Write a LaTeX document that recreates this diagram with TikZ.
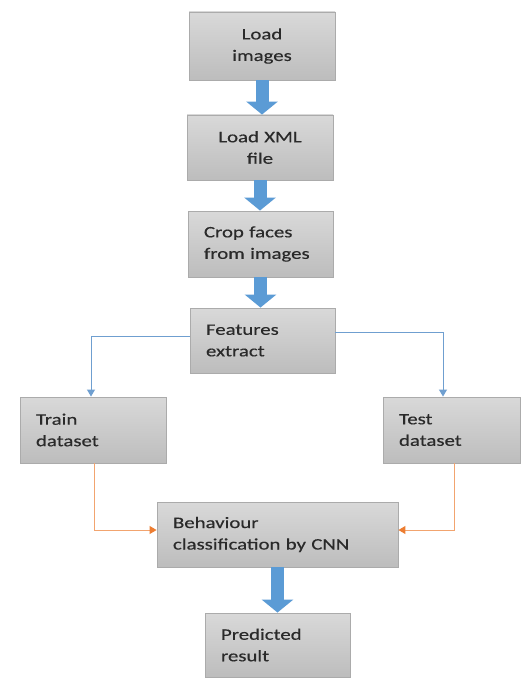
\documentclass[tikz,border=0pt]{standalone}
\usepackage{fontspec}
\setmainfont{Carlito}[FakeStretch=1.3,FakeBold=0.4]
\usetikzlibrary{arrows.meta}
\definecolor{blk}{HTML}{5B9BD5}
\definecolor{ln}{HTML}{6F9FD0}
\definecolor{orn}{HTML}{ED7D31}
\definecolor{txt}{HTML}{2A2A2A}
\tikzset{
  box/.style={rectangle, draw=black!33, line width=0.9pt, top color=black!15, bottom color=black!26,
    inner ysep=0pt, inner xsep=16pt, text=txt, font=\fontsize{16}{21.5}\selectfont},
  cbox/.style={box, align=center},
  lbox/.style={box, align=left},
  bigarrow/.style={draw=blk, line width=13pt, -{Triangle[width=31pt,length=13pt]}},
  bluelink/.style={draw=ln, line width=1pt, -{Triangle[width=8pt,length=7pt]}},
  orangelink/.style={draw=orn!70, line width=1pt, -{Triangle[width=8pt,length=7pt,color=orn]}},
}
\begin{document}
\begin{tikzpicture}[x=1pt,y=-1pt]
\useasboundingbox (0,0) rectangle (521,679);
\fill[white] (0,0) rectangle (521,679);
\node[cbox, minimum width=146pt, minimum height=68pt, text width=114pt] (load) at (262,46) {Load\\images};
\node[cbox, minimum width=146pt, minimum height=65pt, text width=114pt] (xml) at (260,147.5) {Load XML\\file};
\node[lbox, minimum width=145pt, minimum height=66pt, text width=113pt] (crop) at (260.5,244) {Crop faces\\from images};
\node[lbox, minimum width=145pt, minimum height=65pt, text width=113pt] (feat) at (262.5,340.5) {Features\\extract};
\node[lbox, minimum width=146pt, minimum height=66pt, text width=114pt] (train) at (93,430) {Train\\dataset};
\node[lbox, minimum width=137pt, minimum height=66pt, text width=105pt] (test) at (451.5,430) {Test\\dataset};
\node[lbox, minimum width=241pt, minimum height=65pt, text width=209pt] (beh) at (277.5,534.5) {Behaviour\\classification by CNN};
\node[lbox, minimum width=145pt, minimum height=64pt, text width=113pt] (pred) at (277.5,645) {Predicted\\result};

\draw[bigarrow] (load.south) -- (load.south |- xml.north);
\draw[bigarrow] (xml.south) -- (xml.south |- crop.north);
\draw[bigarrow] (crop.south) -- (crop.south |- feat.north);
\draw[bigarrow] (beh.south) -- (pred.north);

\draw[bluelink] ([yshift=4.5pt]feat.west) -| ([xshift=-2pt]train.north);
\draw[bluelink] ([yshift=8pt]feat.east) -| ([xshift=-8.5pt]test.north);
\draw[orangelink] ([xshift=1pt]train.south) |- ([yshift=4.5pt]beh.west);
\draw[orangelink] ([xshift=2.5pt]test.south) |- ([yshift=4.5pt]beh.east);
\end{tikzpicture}
\end{document}
